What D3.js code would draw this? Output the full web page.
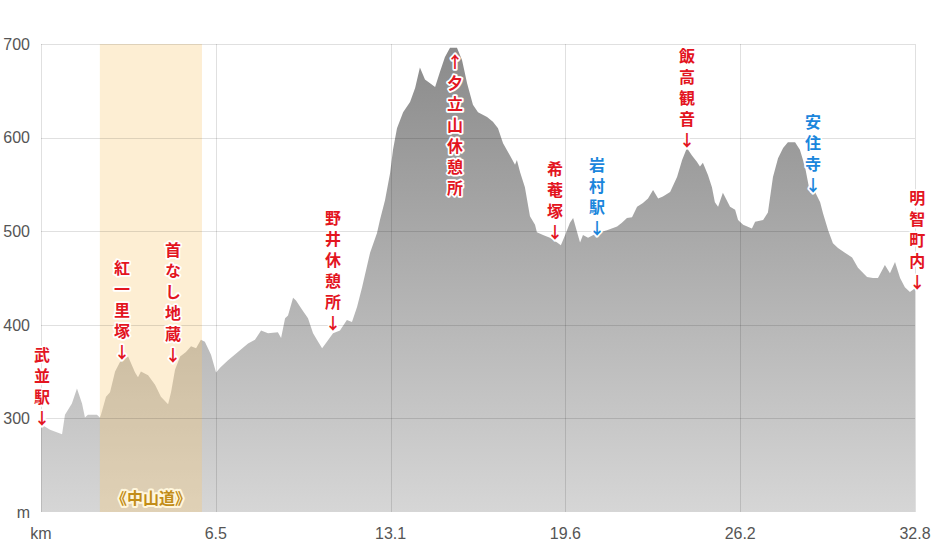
<!DOCTYPE html>
<html>
<head>
<meta charset="utf-8">
<script src="https://cdn.jsdelivr.net/npm/d3@7"></script>
<style>
  html, body { margin: 0; padding: 0; background: #fff; }
  svg { display: block; }
  .tick-label { font-family: "Liberation Sans", Arial, sans-serif; font-size: 16px; fill: #555; }
  .spot { font-family: "Noto Sans CJK JP", sans-serif; font-size: 16px; font-weight: 700;
          writing-mode: vertical-rl; text-orientation: upright; letter-spacing: 5px;
          stroke: #fff; stroke-width: 3.5px; stroke-linejoin: round; paint-order: stroke; }
</style>
</head>
<body>
<div id="chart"></div>
<script>
// ── Data ──────────────────────────────────────────────────────────────────────
const distKm = [0, 0.11, 0.34, 0.79, 0.90, 1.16, 1.35, 1.54, 1.65, 1.76, 2.10, 2.21, 2.25, 2.44, 2.59, 2.78,
  2.96, 3.27, 3.53, 3.64, 3.75, 4.02, 4.28, 4.50, 4.77, 4.88, 5.03, 5.22, 5.44, 5.63, 5.82, 6.00, 6.15,
  6.38, 6.57, 6.72, 7.02, 7.39, 7.77, 8.03, 8.26, 8.52, 8.89, 9.01, 9.16, 9.27, 9.46, 9.57, 9.80, 10.02,
  10.21, 10.40, 10.55, 10.73, 10.96, 11.22, 11.48, 11.67, 11.86, 12.05, 12.35, 12.61, 12.72, 12.91, 13.10,
  13.21, 13.36, 13.59, 13.85, 14.04, 14.22, 14.41, 14.60, 14.79, 14.97, 15.16, 15.35, 15.61, 15.80, 15.99,
  16.21, 16.40, 16.74, 16.96, 17.15, 17.34, 17.60, 17.79, 17.86, 17.98, 18.16, 18.35, 18.54, 18.61, 18.84,
  19.10, 19.37, 19.51, 19.67, 19.85, 19.97, 20.12, 20.23, 20.34, 20.53, 20.87, 21.24, 21.62, 21.80, 21.99,
  22.18, 22.37, 22.59, 22.78, 22.97, 23.16, 23.34, 23.61, 23.87, 24.06, 24.24, 24.43, 24.62, 24.73, 24.84,
  25.03, 25.18, 25.29, 25.41, 25.59, 25.86, 26.05, 26.16, 26.35, 26.68, 26.80, 27.10, 27.28, 27.47, 27.66,
  27.85, 28.03, 28.30, 28.48, 28.67, 28.86, 29.05, 29.24, 29.35, 29.54, 29.72, 29.91, 30.17, 30.44, 30.66,
  31.00, 31.22, 31.41, 31.67, 31.86, 32.05, 32.24, 32.42, 32.61, 32.80];

const elevM = [291, 292, 288, 283, 304, 316, 332, 316, 301, 304, 304, 301, 304, 323, 328, 350,
  360, 366, 349, 344, 350, 346, 336, 323, 315, 328, 352, 366, 371, 377, 375, 384, 382,
  368, 349, 354, 362, 371, 380, 384, 394, 391, 392, 386, 407, 410, 429, 426, 416, 407,
  391, 382, 375, 382, 391, 394, 405, 403, 419, 440, 477, 498, 512, 533, 562,
  587, 610, 627, 638, 653, 675, 662, 658, 654, 670, 686, 696, 696, 683, 658,
  635, 627, 622, 617, 610, 594, 581, 571, 576, 563, 547, 516, 507, 499, 496,
  493, 488, 485, 496, 509, 514, 499, 488, 496, 493, 498, 501, 505, 509, 514,
  515, 526, 530, 535, 544, 535, 537, 542, 558, 576, 589, 581, 574, 569, 573,
  560, 547, 531, 526, 541, 526, 523, 512, 507, 503, 510, 512, 520, 558, 578,
  589, 595, 595, 587, 569, 541, 542, 531, 519, 501, 487, 482, 477, 472, 461,
  451, 450, 450, 464, 455, 467, 450, 440, 435, 439];

const xTicks      = [0, 6.56, 13.12, 19.68, 26.24, 32.8];
const xTickLabels = ['km', '6.5', '13.1', '19.6', '26.2', '32.8'];
const yTicks      = [200, 300, 400, 500, 600, 700];
const yTickLabels = ['m', '300', '400', '500', '600', '700'];

// 中山道 section
const bandKm   = [2.21, 6.04];
const bandName = '《中山道》';

// spots: text (arrow included), km, elevation of arrow glyph, colour group
const spotNames = ['武並駅↓', '紅一里塚↓', '首なし地蔵↓', '野井休憩所↓', '↑夕立山休憩所', '希菴塚↓',
                   '岩村駅↓', '飯高観音↓', '安住寺↓', '明智町内↓'];
const spotKm    = [0.04, 3.04, 4.95, 10.96, 15.54, 19.29, 20.87, 24.24, 28.97, 32.88];
const spotArrowM = [300, 371, 368, 402, 681, 499, 504, 597, 549, 446];
const spotKind  = ['red', 'red', 'red', 'red', 'red', 'red', 'blue', 'red', 'blue', 'red'];

// ── Layout ────────────────────────────────────────────────────────────────────
const W = 934, H = 545;
const margin = { top: 44, right: 19, bottom: 33, left: 41 };

const svg = d3.select('#chart').append('svg').attr('width', W).attr('height', H);

const x = d3.scaleLinear().domain([0, 32.8]).range([margin.left, W - margin.right]);
const y = d3.scaleLinear().domain([200, 700]).range([H - margin.bottom, margin.top]);

const grad = svg.append('defs').append('linearGradient')
  .attr('id', 'elevFill').attr('gradientUnits', 'userSpaceOnUse')
  .attr('x1', 0).attr('x2', 0).attr('y1', y(700)).attr('y2', y(200));
grad.append('stop').attr('offset', '0%').attr('stop-color', '#8a8a8a');
grad.append('stop').attr('offset', '100%').attr('stop-color', '#d6d6d6');

const profile = distKm.map((d, i) => ({ km: d, m: elevM[i] }));

// area
svg.append('path')
  .datum(profile)
  .attr('fill', 'url(#elevFill)')
  .attr('d', d3.area().x(d => x(d.km)).y0(y(200)).y1(d => y(d.m)));

// 中山道 band
svg.append('rect')
  .attr('x', x(bandKm[0])).attr('y', y(700))
  .attr('width', x(bandKm[1]) - x(bandKm[0])).attr('height', y(200) - y(700))
  .attr('fill', 'rgb(247,200,110)').attr('fill-opacity', 0.3);

// grid
const grid = svg.append('g').attr('stroke', '#000').attr('stroke-opacity', 0.12).attr('stroke-width', 1);
grid.selectAll('line.h').data(yTicks.slice(1)).enter().append('line')
  .attr('x1', x(0)).attr('x2', x(32.8))
  .attr('y1', d => Math.round(y(d)) + 0.5).attr('y2', d => Math.round(y(d)) + 0.5);
grid.selectAll('line.v').data(xTicks).enter().append('line')
  .attr('y1', y(700)).attr('y2', y(200))
  .attr('x1', d => Math.round(x(d)) + 0.5).attr('x2', d => Math.round(x(d)) + 0.5);

// axis labels
svg.append('g').selectAll('text').data(yTicks).enter().append('text')
  .attr('class', 'tick-label')
  .attr('x', 30).attr('y', d => y(d)).attr('dy', '0.36em')
  .attr('text-anchor', 'end')
  .text((d, i) => yTickLabels[i]);

svg.append('g').selectAll('text').data(xTicks).enter().append('text')
  .attr('class', 'tick-label')
  .attr('x', d => x(d)).attr('y', 539)
  .attr('text-anchor', 'middle')
  .text((d, i) => xTickLabels[i]);

// band title
svg.append('text')
  .attr('x', x((bandKm[0] + bandKm[1]) / 2)).attr('y', 504)
  .attr('text-anchor', 'middle')
  .style('font-family', '"Noto Sans CJK JP", sans-serif').style('font-size', '16px').style('font-weight', 700)
  .style('fill', '#c28d18').style('stroke', '#fff6dc').style('stroke-width', '4px')
  .style('stroke-linejoin', 'round').style('paint-order', 'stroke')
  .text(bandName);

// spot labels: vertical text, one glyph per 21px step
const lineStep = 21;
const spotColor = { red: '#e3151f', blue: '#1a86dc' };
spotNames.forEach((name, i) => {
  const chars = Array.from(name);
  const up = chars[0] === '↑';
  const ay = y(spotArrowM[i]);
  const topY = up ? ay : ay - (chars.length - 1) * lineStep;
  svg.append('text')
    .attr('class', 'spot')
    .attr('x', x(spotKm[i]))
    .attr('y', topY - 8)
    .style('fill', spotColor[spotKind[i]])
    .text(name);
});
</script>
</body>
</html>
